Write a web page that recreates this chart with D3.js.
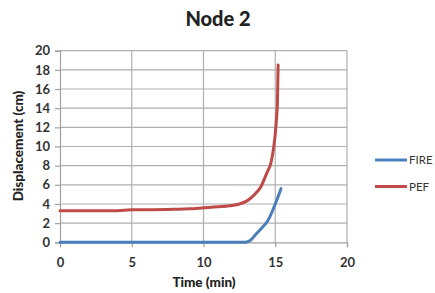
<!DOCTYPE html>
<html>
<head>
<meta charset="utf-8">
<script src="https://cdn.jsdelivr.net/npm/d3@7"></script>
<style>
  body { margin: 0; background: #fff; }
  text { font-family: Lato, "Open Sans", sans-serif; }
</style>
</head>
<body>
<div id="chart"></div>
<script>
// Node 2 displacement vs time

let chartTitle = "Node 2";
let xTicks = [0, 5, 10, 15, 20];
let yTicks = [0, 2, 4, 6, 8, 10, 12, 14, 16, 18, 20];

let fireTime = [0, 5, 10, 12.9, 13.1, 13.3, 13.6, 14, 14.5, 15, 15.4];
let fireDisp = [0, 0, 0, 0, 0.06, 0.25, 0.75, 1.4, 2.3, 4.0, 5.6];

let pefTime = [0, 2, 4, 5, 6, 8, 9, 10, 11, 12, 12.5, 13, 13.5, 14, 14.4, 14.7, 14.9, 15.0, 15.1, 15.15, 15.2];
let pefDisp = [3.3, 3.3, 3.3, 3.4, 3.4, 3.45, 3.5, 3.6, 3.7, 3.85, 4.0, 4.3, 4.9, 5.8, 7.2, 8.3, 10.0, 11.3, 13.2, 14.5, 18.5];

let seriesNames = ["FIRE", "PEF"];
let seriesColors = ["#4a7ebb", "#be4b48"];

let width = 435, height = 293;
let xScale = d3.scaleLinear().domain([0, 20]).range([60, 347]);
let yScale = d3.scaleLinear().domain([0, 20]).range([242.3, 50.7]);

let svg = d3.select("#chart").append("svg")
  .attr("width", width)
  .attr("height", height);

// title
svg.append("text")
  .attr("x", 218).attr("y", 26)
  .attr("text-anchor", "middle")
  .attr("font-size", 20).attr("font-weight", "900")
  .attr("fill", "#222")
  .text(chartTitle);

// gridlines
svg.append("g").selectAll("line.h")
  .data(yTicks.filter(d => d > 0))
  .enter().append("line")
  .attr("x1", xScale(0)).attr("x2", xScale(20))
  .attr("y1", d => yScale(d)).attr("y2", d => yScale(d))
  .attr("stroke", "#b0b0b0").attr("stroke-width", 1.2);

svg.append("g").selectAll("line.v")
  .data(xTicks.filter(d => d > 0))
  .enter().append("line")
  .attr("x1", d => xScale(d)).attr("x2", d => xScale(d))
  .attr("y1", yScale(0)).attr("y2", yScale(20))
  .attr("stroke", "#b0b0b0").attr("stroke-width", 1.2);

// axes
let xAxis = svg.append("g")
  .attr("transform", "translate(0," + yScale(0) + ")")
  .call(d3.axisBottom(xScale).tickValues(xTicks).tickSize(5).tickPadding(10));
let yAxis = svg.append("g")
  .attr("transform", "translate(" + xScale(0) + ",0)")
  .call(d3.axisLeft(yScale).tickValues(yTicks).tickSize(5).tickPadding(5));

[xAxis, yAxis].forEach(function(ax) {
  ax.selectAll("path, line").attr("stroke", "#a0a0a0").attr("stroke-width", 1.2);
  ax.selectAll("text")
    .attr("font-size", 13).attr("font-weight", "bold")
    .attr("fill", "#333")
    .style("font-family", "Lato, 'Open Sans', sans-serif");
});

// axis titles
svg.append("text")
  .attr("x", 204).attr("y", 287)
  .attr("text-anchor", "middle")
  .attr("font-size", 13.5).attr("font-weight", "900")
  .attr("fill", "#222")
  .text("Time (min)");

svg.append("text")
  .attr("transform", "translate(23,146) rotate(-90)")
  .attr("text-anchor", "middle")
  .attr("font-size", 13.5).attr("font-weight", "900")
  .attr("fill", "#222")
  .text("Displacement  (cm)");

// series
let line = d3.line()
  .x(d => xScale(d[0]))
  .y(d => yScale(d[1]))
  .curve(d3.curveMonotoneX);

let series = [
  d3.zip(fireTime, fireDisp),
  d3.zip(pefTime, pefDisp)
];

svg.append("g").selectAll("path")
  .data(series)
  .enter().append("path")
  .attr("d", line)
  .attr("fill", "none")
  .attr("stroke", (d, i) => seriesColors[i])
  .attr("stroke-width", 3)
  .attr("stroke-linecap", "round");

// legend
let legend = svg.append("g").selectAll("g")
  .data(seriesNames)
  .enter().append("g")
  .attr("transform", (d, i) => "translate(375," + (160 + i * 26.5) + ")");

legend.append("line")
  .attr("x1", 0).attr("x2", 32)
  .attr("stroke", (d, i) => seriesColors[i])
  .attr("stroke-width", 3);

legend.append("text")
  .attr("x", 34).attr("y", 4)
  .attr("font-size", 11.5)
  .attr("fill", "#333")
  .text(d => d);
</script>
</body>
</html>
